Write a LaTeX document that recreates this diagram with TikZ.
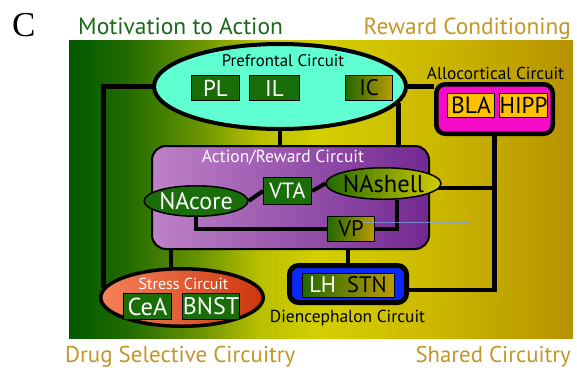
\documentclass[tikz,border=0pt]{standalone}
\usepackage{fontspec}
\setmainfont{PT Sans}
\newfontfamily\serifC{Liberation Serif}
\usetikzlibrary{shapes.geometric}
\definecolor{bg0}{RGB}{0,88,0}
\definecolor{bg1}{RGB}{35,108,0}
\definecolor{bg2}{RGB}{105,148,0}
\definecolor{bg3}{RGB}{185,192,0}
\definecolor{bg4}{RGB}{212,207,0}
\definecolor{bg5}{RGB}{205,185,0}
\definecolor{bg6}{RGB}{182,146,0}
\definecolor{titlegreen}{RGB}{25,105,25}
\definecolor{titlegold}{RGB}{195,150,40}
\definecolor{pfcfill}{RGB}{95,255,210}
\definecolor{boxgreen}{RGB}{25,110,10}
\definecolor{allomag}{RGB}{245,10,200}
\definecolor{alloyellow}{RGB}{255,192,0}
\definecolor{purpL}{RGB}{190,130,200}
\definecolor{purpR}{RGB}{115,40,145}
\definecolor{stressL}{RGB}{245,130,90}
\definecolor{stressM}{RGB}{230,80,35}
\definecolor{stressR}{RGB}{205,55,15}
\definecolor{dieblue}{RGB}{10,40,250}
\definecolor{grL}{RGB}{35,105,0}
\definecolor{grM}{RGB}{210,205,0}
\definecolor{grR}{RGB}{188,155,0}
\definecolor{teal}{RGB}{120,160,220}
\pgfdeclarelayer{back}
\pgfdeclarelayer{lines}
\pgfdeclarelayer{boxes}
\pgfdeclarelayer{innerlines}
\pgfsetlayers{back,lines,boxes,innerlines,main}
\pgfdeclarehorizontalshading{bgshade}{100bp}{color(0bp)=(bg0); color(25bp)=(bg0); color(31bp)=(bg1); color(37.9bp)=(bg2); color(43.9bp)=(bg3); color(49.85bp)=(bg4); color(60.8bp)=(bg5); color(75bp)=(bg6); color(100bp)=(bg6)}
\tikzset{
  fs/.style={font=\fontsize{#1}{#1}\selectfont},
  conn/.style={line width=4.5pt},
  panel/.style={shade, shading=bgshade, minimum width=504pt, minimum height=298pt, inner sep=0pt, draw=none},
  titletext/.style={fs=23.3, inner sep=0pt},
  hdr/.style={fs=17, inner sep=0pt},
  gbox/.style={draw=black, line width=1.1pt, fill=boxgreen, text=white, inner sep=0pt, fs=23},
  gradbox/.style={draw=black, line width=1.1pt, left color=grL, right color=grR, text=black, inner sep=0pt, fs=22.5},
  ybox/.style={draw=black, line width=1.1pt, fill=alloyellow, text=black, inner sep=0pt, fs=23.5},
  pfcshape/.style={ellipse, draw=black, line width=4pt, fill=pfcfill, minimum width=252pt, minimum height=85pt, inner sep=0pt},
  alloshape/.style={draw=black, line width=4.5pt, fill=allomag, rounded corners=9pt, minimum width=116.5pt, minimum height=49.5pt, inner sep=0pt},
  arcshape/.style={draw=black, line width=2pt, left color=purpL, right color=purpR, rounded corners=14pt, minimum width=277pt, minimum height=103pt, inner sep=0pt},
  stressshape/.style={ellipse, draw=black, line width=3.5pt, left color=stressL, middle color=stressM, right color=stressR, minimum width=162.5pt, minimum height=57.5pt, inner sep=0pt},
  dieouter/.style={draw=black, line width=5pt, fill=dieblue, rounded corners=9pt, minimum width=117pt, minimum height=37pt, inner sep=0pt},
  dieinner/.style={draw=black, line width=1pt, left color=grL, middle color=grM, right color=grR, minimum width=92pt, minimum height=24pt, inner sep=0pt, fs=22.5},
  gell/.style={ellipse, draw=black, line width=1.5pt, fill=boxgreen, text=white, inner sep=0pt, fs=24},
  gradell/.style={ellipse, draw=black, line width=1.5pt, left color=grL, right color=grM, text=black, inner sep=0pt, fs=24.5},
}
\begin{document}
\begin{tikzpicture}[x=1pt,y=-1pt]
\useasboundingbox (0,0) rectangle (577,373);
\begin{pgfonlayer}{back}
\fill[white] (0,0) rectangle (577,373);
\node[panel] (panel) at (321,189) {};
\end{pgfonlayer}

% titles
\node[anchor=base west, inner sep=0pt, fs=35] (clabel) at (12,36) {\serifC C};
\node[titletext, fs=23.5, text=titlegreen, anchor=base west] (mot) at (78,34) {Motivation to Action};
\node[titletext, text=titlegold, anchor=base east] (rew) at (571,34) {Reward Conditioning};
\node[titletext, fs=22.9, text=titlegold, anchor=base west] (drug) at (65,362) {Drug Selective Circuitry};
\node[titletext, fs=22.8, text=titlegold, anchor=base east] (shared) at (571,362) {Shared Circuitry};

% container shapes
\begin{pgfonlayer}{boxes}
\node[pfcshape] (pfc) at (280,86.5) {};
\node[alloshape] (allo) at (494.5,109) {};
\node[arcshape] (arc) at (290.5,197.5) {};
\node[stressshape] (stress) at (182,297.5) {};
\node[dieouter] (die) at (348,284) {};
\end{pgfonlayer}

% headers
\node[hdr, fs=16.8, anchor=base] (pfclab) at (283,66) {Prefrontal Circuit};
\node[hdr, fs=17.3, anchor=base] (allolab) at (495.5,79) {Allocortical Circuit};
\node[hdr, fs=17.5, text=white, anchor=base] (arclab) at (283,162) {Action/Reward Circuit};
\node[hdr, fs=16, text=white, anchor=base] (stresslab) at (183.5,289) {Stress Circuit};
\node[hdr, fs=17.4, anchor=base] (dielab) at (347.5,322) {Diencephalon Circuit};

% inner boxes
\node[gbox, minimum width=48pt, minimum height=25pt] (pl) at (215.5,88) {PL};
\node[gbox, minimum width=50pt, minimum height=25pt] (il) at (274.5,88) {IL};
\node[gradbox, minimum width=47pt, minimum height=25pt] (ic) at (369,88) {IC};
\node[ybox, minimum width=47pt, minimum height=24pt] (bla) at (471,105.5) {BLA};
\node[ybox, fs=23, minimum width=48pt, minimum height=24pt] (hipp) at (523.5,105.5) {HIPP};
\node[gell, minimum width=85.5pt, minimum height=30.5pt] (nacore) at (196,201) {NAcore};
\node[gbox, fs=22, minimum width=48pt, minimum height=27pt] (vta) at (287.5,191) {VTA};
\node[gradell, minimum width=85.5pt, minimum height=31.5pt] (nashell) at (383.5,183.5) {NAshell};
\node[gradbox, minimum width=47pt, minimum height=25pt] (vp) at (351,229) {VP};
\node[gbox, fs=24.5, minimum width=48pt, minimum height=26pt] (cea) at (147.5,306.5) {CeA};
\node[gbox, fs=24, minimum width=53pt, minimum height=26pt] (bnst) at (211,306.5) {BNST};
\node[dieinner] (lhstn) at (348,285) {\textcolor{white}{LH}\hspace{11pt}STN};

% outer connectors
\begin{pgfonlayer}{lines}
\draw[conn] (pfc.west) -| (stress.173);
\draw[conn] (pfc.south) -- (pfc.south |- arc.north);
\draw[conn] (pfc.-8.5) -- (pfc.-8.5 |- arc.north);
\draw[conn] (pfc.east) -- (pfc.east -| allo.west);
\draw[conn] (allo.south) |- ([yshift=-6pt]die.east);
\draw[conn] ([yshift=9.5pt]arc.east) -- ([yshift=9.5pt]arc.east -| allo.south);
\draw[conn] ([xshift=-11pt]stress.north) -- ([xshift=-11pt]stress.north |- arc.south);
\draw[conn] (die.north) -- (die.north |- arc.south);
\end{pgfonlayer}

% inner connectors
\begin{pgfonlayer}{innerlines}
\draw[conn, line width=4pt] (nacore.east) -- (vta.west);
\draw[conn, line width=4pt] (vta.east) -- (nashell.west);
\draw[conn, line width=4pt] (nacore.south) |- (vp.west);
\draw[conn, line width=4pt] (nashell.-50) |- (vp.east);
\end{pgfonlayer}

\coordinate (tealend) at (470,222);
\draw[teal, line width=0.5pt, opacity=0.8] ([xshift=12pt,yshift=7pt]vp.center) -- (tealend);
\end{tikzpicture}
\end{document}
